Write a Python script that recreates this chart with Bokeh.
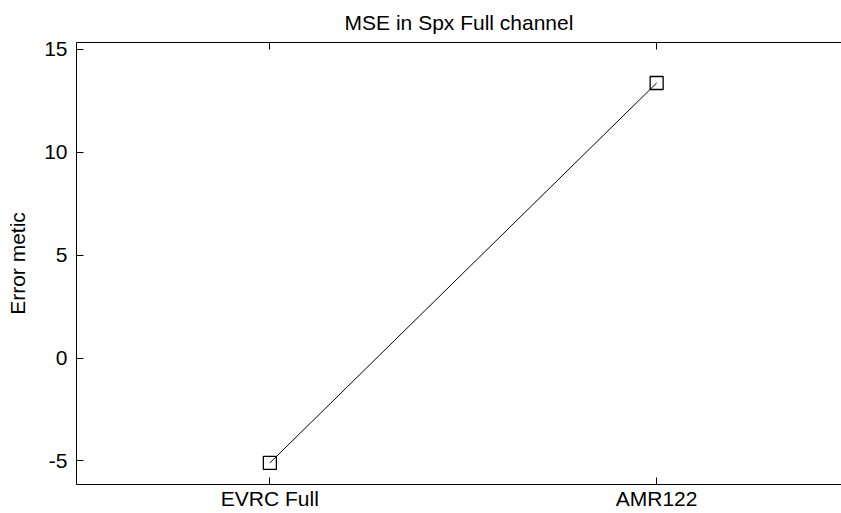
from bokeh.plotting import figure
from bokeh.models import LinearAxis, FixedTicker, Range1d, ColumnDataSource
from bokeh.embed import file_html
from bokeh.resources import INLINE

# ---- data ----
categories = ["EVRC Full", "AMR122"]
mse_values = [-5.1, 13.37]
y_ticks = [-5, 0, 5, 10, 15]
y_tick_labels = ["-5", "0", "5", "10", "15"]
title_text = "MSE in Spx Full channel"
y_label = "Error metic"

x_pos = list(range(1, len(categories) + 1))
source = ColumnDataSource(data=dict(x=x_pos, y=mse_values, cat=categories))

FONT = "Liberation Sans"
FS = "21px"

p = figure(width=841, height=513, output_backend="svg", toolbar_location=None,
           x_range=Range1d(0.5, 2.478), y_range=Range1d(-6.15, 15.34),
           min_border_left=76, min_border_right=0, min_border_top=42, min_border_bottom=29,
           x_axis_label=None)

p.title.text = title_text
p.title.align = "center"
p.title.vertical_align = "top"
p.title.offset = 2
p.title.text_font = FONT
p.title.text_font_size = FS
p.title.text_font_style = "normal"
p.title.text_color = "black"
if "standoff" in p.title.properties():
    p.title.standoff = 14

p.xgrid.visible = False
p.ygrid.visible = False
p.outline_line_color = None
p.background_fill_color = "white"
p.border_fill_color = "white"

# bottom axis
xa = p.xaxis[0]
xa.axis_label = None
xa.ticker = FixedTicker(ticks=x_pos)
xa.major_label_overrides = {i: c for i, c in zip(x_pos, categories)}
xa.major_tick_in = 7
xa.major_tick_out = 0
xa.minor_tick_line_color = None
xa.major_label_standoff = 2
xa.major_label_text_font = FONT
xa.major_label_text_font_size = FS
xa.major_label_text_color = "black"
xa.axis_line_color = "black"
xa.major_tick_line_color = "black"

# left axis
ya = p.yaxis[0]
ya.ticker = FixedTicker(ticks=y_ticks)
ya.major_label_overrides = {t: s for t, s in zip(y_ticks, y_tick_labels)}
ya.major_tick_in = 7
ya.major_tick_out = 0
ya.minor_tick_line_color = None
ya.major_label_standoff = 9
ya.major_label_text_font = FONT
ya.major_label_text_font_size = FS
ya.major_label_text_color = "black"
ya.axis_label = y_label
ya.axis_label_text_font = FONT
ya.axis_label_text_font_size = FS
ya.axis_label_text_font_style = "normal"
ya.axis_label_text_color = "black"
ya.axis_label_standoff = 12
ya.axis_line_color = "black"
ya.major_tick_line_color = "black"

# top axis: box line with inward ticks (minor ticks, so no labels are drawn)
ta = LinearAxis(ticker=FixedTicker(ticks=[], minor_ticks=x_pos),
                major_tick_in=0, major_tick_out=0,
                minor_tick_in=7, minor_tick_out=0,
                major_label_standoff=0, axis_line_color="black",
                minor_tick_line_color="black")
p.add_layout(ta, "above")

p.line("x", "y", source=source, line_color="black", line_width=1)
p.scatter("x", "y", source=source, marker="square", size=13, fill_color=None,
          line_color="black", line_width=1.3)

open("out.html", "w").write(file_html(p, INLINE))
